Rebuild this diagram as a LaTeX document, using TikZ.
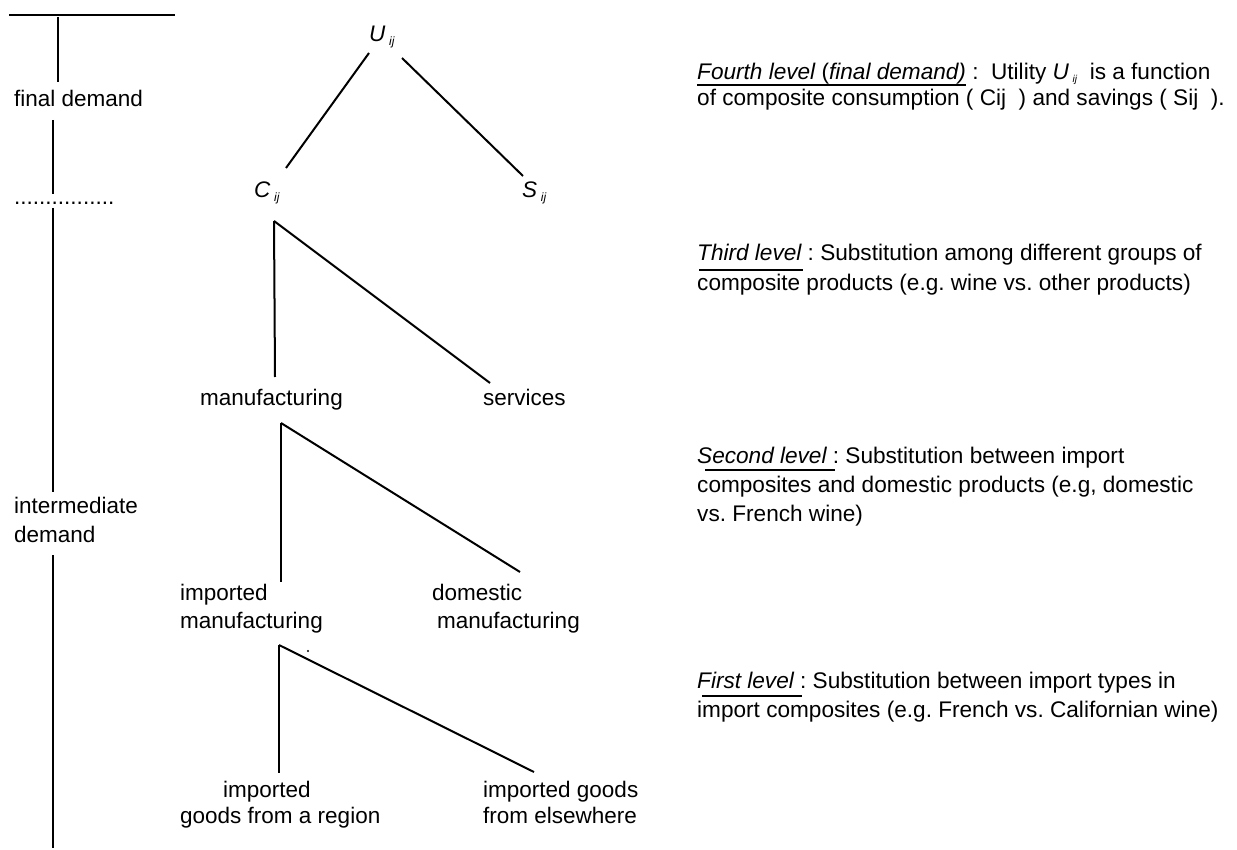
\documentclass[tikz,border=0pt]{standalone}
\usepackage{fontspec}
\setmainfont{Liberation Sans}
\newcommand{\subij}{\raisebox{-4pt}{\fontsize{12}{12}\selectfont\itshape ij}}
\newcommand{\subijs}{\raisebox{-3pt}{\fontsize{10}{10}\selectfont\itshape ij}}
\begin{document}
\frenchspacing
\begin{tikzpicture}[x=1pt,y=-1pt,
  txt/.style={anchor=base west,inner sep=0pt,font=\fontsize{22.5}{27}\selectfont},
  rtxt/.style={anchor=base west,inner sep=0pt,font=\fontsize{22.6}{27}\selectfont},
  ln/.style={line width=2pt},
  ul/.style={line width=1.6pt}]
\useasboundingbox[fill=white] (0,0) rectangle (1237,850);
% left axis
\node[txt] (fd) at (14,107) {final demand};
\node[txt] (dots) at (14,205) {................};
\node[txt] (im1) at (14,513) {intermediate};
\node[txt] (im2) at (14,542) {demand};
\coordinate (t0) at (9,15);
\coordinate (t1) at (175,15);
\coordinate (a0) at (58,17);
\coordinate (a1) at (58,82);
\coordinate (b0) at (53,120);
\coordinate (b1) at (53,194);
\coordinate (c0) at (53,208);
\coordinate (c1) at (53,492);
\coordinate (d0) at (53,555);
\coordinate (d1) at (53,848);
\draw[ln] (t0) -- (t1);
\draw[ln] (a0) -- (a1);
\draw[ln] (b0) -- (b1);
\draw[ln] (c0) -- (c1);
\draw[ln] (d0) -- (d1);
% tree nodes
\node[txt] (U) at (369,42) {\itshape U\,\subij};
\node[txt] (C) at (254,198) {\itshape C\,\subij};
\node[txt] (S) at (522,198) {\itshape S\,\subij};
\node[txt] (mf) at (200,405) {manufacturing};
\node[txt] (sv) at (483,405) {services};
\node[txt] (imA) at (180,600) {imported};
\node[txt] (imB) at (180,628) {manufacturing};
\node[txt] (doA) at (432,600) {domestic};
\node[txt] (doB) at (437,628) {manufacturing};
\node[txt] (rgA) at (223,797) {imported};
\node[txt] (rgB) at (180,823) {goods from a region};
\node[txt] (elA) at (483,797) {imported goods};
\node[txt] (elB) at (483,823) {from elsewhere};
% branch points
\coordinate (Ul) at (369,53);
\coordinate (Ur) at (402,58);
\coordinate (Ct) at (286,168);
\coordinate (St) at (523,176);
\coordinate (Cf) at (274,221);
\coordinate (mfT) at (275,377);
\coordinate (svT) at (490,383);
\coordinate (Mf) at (281,423);
\coordinate (imT) at (281,582);
\coordinate (doT) at (520,572);
\coordinate (If) at (279,645);
\coordinate (rgT) at (279,773);
\coordinate (elT) at (534,772);
\draw[ln] (Ul) -- (Ct);
\draw[ln] (Ur) -- (St);
\draw[ln] (Cf) -- (mfT);
\draw[ln] (Cf) -- (svT);
\draw[ln] (Mf) -- (imT);
\draw[ln] (Mf) -- (doT);
\draw[ln] (If) -- (rgT);
\draw[ln] (If) -- (elT);
\fill (308,651) circle (1.1pt);
% right texts
\node[rtxt] (L4a) at (697,80) {\itshape Fourth level\upshape\ (\itshape final demand)\upshape\ :\ \ Utility \itshape U\,\subijs\upshape\ \ is a function};
\node[rtxt] (L4b) at (697,106) {of composite consumption ( Cij\ \ ) and savings ( Sij\ \ ).};
\draw[ul] (697,85) -- (966,85);
\node[rtxt] (L3a) at (697,261) {\itshape Third level\upshape\ : Substitution among different groups of};
\node[rtxt] (L3b) at (697,291) {composite products (e.g. wine vs. other products)};
\draw[ul] (699,270) -- (803,270);
\node[rtxt] (L2a) at (697,463) {\itshape Second level\ \upshape: Substitution between import};
\node[rtxt] (L2b) at (697,492) {composites and domestic products (e.g, domestic};
\node[rtxt] (L2c) at (697,521) {vs. French wine)};
\draw[ul] (705,470) -- (835,470);
\node[rtxt] (L1a) at (697,688) {\itshape First level\ \upshape: Substitution between import types in};
\node[rtxt] (L1b) at (697,717) {import composites (e.g. French vs. Californian wine)};
\draw[ul] (702,696) -- (802,696);
\end{tikzpicture}
\end{document}
